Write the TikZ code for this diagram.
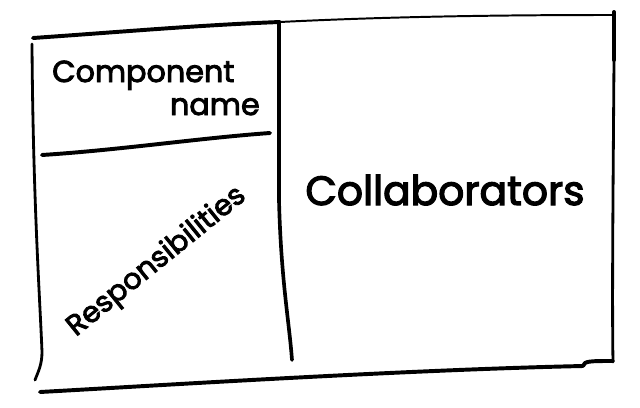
\documentclass[tikz,border=0pt]{standalone}
\usepackage{fontspec}
\setmainfont{Poppins}[FakeBold=3]
\usetikzlibrary{positioning, calc}

\begin{document}
\begin{tikzpicture}[x=0.025cm, y=-0.025cm]
        \tikzstyle{pen} = [draw=black, line width=2pt, line cap=round, line join=round]
        \tikzstyle{thinpen} = [draw=black, line width=1.4pt, line cap=round, line join=round]
        \tikzstyle{label} = [inner sep=0pt, text=black]

        \useasboundingbox (0,0) rectangle (640,408);

        % card outline
        \draw [pen, line width=2.8pt] (33,38) .. controls (120,32) and (200,25) .. (280,22);
        \draw [thinpen] (280,22) .. controls (400,16) and (520,15) .. (612,15);
        \draw [pen, line width=2.8pt] (614,12) -- (614,60);
        \draw [pen] (614,60) .. controls (613,200) and (612,300) .. (613,362);
        \draw [pen] (32,44) .. controls (33,200) and (40,300) .. (42,352) .. controls (42,365) and (38,372) .. (35,380);
        \draw [pen, line width=2.8pt] (40,392) .. controls (150,386) and (400,370) .. (583,366);
        \draw [pen, line width=2.8pt] (583,366) .. controls (584,361) and (590,361) .. (613,361);

        % dividers
        \draw [pen, line width=2.6pt] (279,23) -- (279,200) .. controls (281,280) and (289,320) .. (292,360);
        \draw [pen, line width=2.8pt] (42,155) .. controls (120,150) and (200,138) .. (270,133);

        % texts
        \node (comp) [label, anchor=base west] at (52,82) {\fontsize{21.5}{24}\selectfont Component};
        \node (name) [label, anchor=base east] at (260,115) {\fontsize{21.5}{24}\selectfont name};
        \node (collab) [label, anchor=base] at (445,205) {\fontsize{29}{36}\selectfont Collaborators};
        \node (resp) [label, rotate=39] at (157,262) {\fontsize{20.5}{22}\selectfont Responsibilities};
    \end{tikzpicture}
\end{document}
